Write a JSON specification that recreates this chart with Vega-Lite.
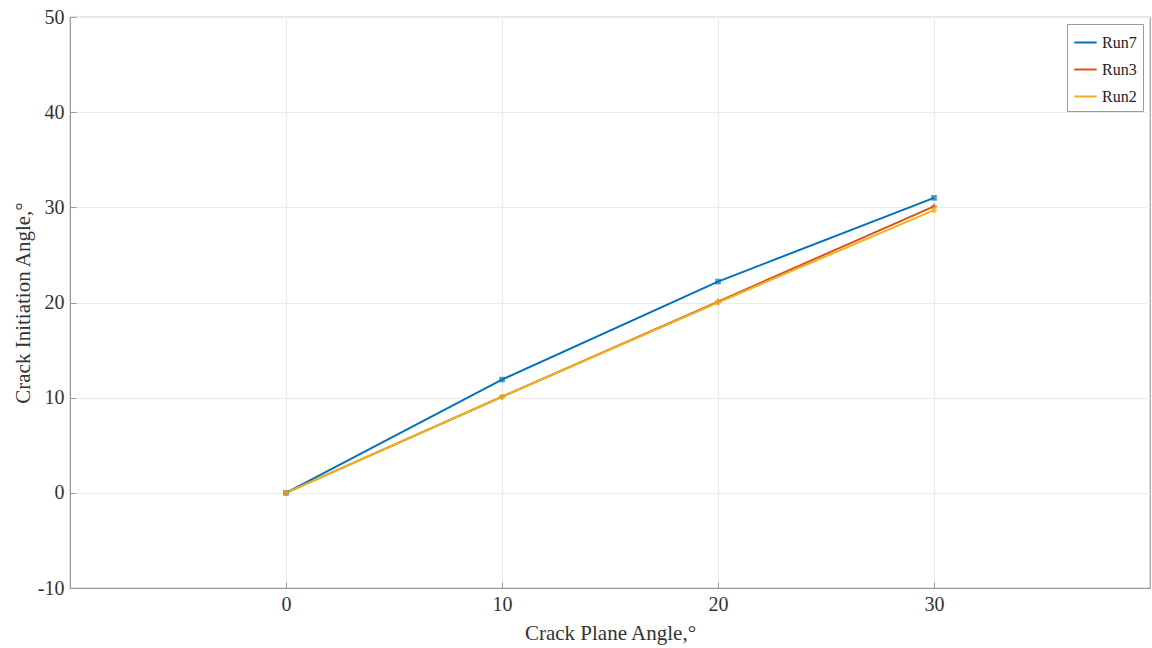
{
  "$schema": "https://vega.github.io/schema/vega-lite/v6.json",
  "width": 1080,
  "height": 571,
  "autosize": {"type": "none"},
  "padding": {"left": 70, "top": 17, "right": 2, "bottom": 60},
  "background": "white",
  "config": {
    "view": {"stroke": "#9a9a9a", "strokeWidth": 1.2},
    "font": "Liberation Serif",
    "axis": {
      "labelFont": "Liberation Serif",
      "titleFont": "Liberation Serif",
      "labelFontSize": 20,
      "titleFontSize": 21,
      "labelColor": "#333333",
      "titleColor": "#333333",
      "titleFontWeight": "normal",
      "gridColor": "#ebebeb",
      "gridWidth": 1,
      "domainColor": "#9a9a9a",
      "tickColor": "#9a9a9a",
      "tickSize": -6,
      "labelPadding": 12
    }
  },
  "data": {
    "values": [
      {"run": "Run7", "x": 0, "y": 0},
      {"run": "Run7", "x": 10, "y": 11.9},
      {"run": "Run7", "x": 20, "y": 22.2},
      {"run": "Run7", "x": 30, "y": 31.0},
      {"run": "Run3", "x": 0, "y": 0},
      {"run": "Run3", "x": 10, "y": 10.1},
      {"run": "Run3", "x": 20, "y": 20.1},
      {"run": "Run3", "x": 30, "y": 30.1},
      {"run": "Run2", "x": 0, "y": 0},
      {"run": "Run2", "x": 10, "y": 10.1},
      {"run": "Run2", "x": 20, "y": 20.0},
      {"run": "Run2", "x": 30, "y": 29.7}
    ]
  },
  "encoding": {
    "x": {
      "field": "x", "type": "quantitative",
      "scale": {"domain": [-10, 40], "nice": false},
      "axis": {"values": [0, 10, 20, 30], "title": "Crack Plane Angle,°", "titlePadding": 8, "labelExpr": "toString(datum.value)"}
    },
    "y": {
      "field": "y", "type": "quantitative",
      "scale": {"domain": [-10, 50], "nice": false},
      "axis": {"values": [-10, 0, 10, 20, 30, 40, 50], "title": "Crack Initiation Angle,°", "titlePadding": 4, "labelExpr": "toString(datum.value)"}
    }
  },
  "layer": [
    {
      "mark": {"type": "line", "strokeWidth": 2},
      "encoding": {
        "color": {
          "field": "run", "type": "nominal",
          "scale": {"domain": ["Run7", "Run3", "Run2"], "range": ["#0072BD", "#D95319", "#EDB120"]},
          "legend": {
            "title": null,
            "orient": "top-right",
            "offset": 7,
            "fillColor": "white",
            "strokeColor": "#9a9a9a",
            "padding": 6,
            "labelFont": "Liberation Serif",
            "labelFontSize": 16,
            "labelColor": "#222222",
            "symbolType": "stroke",
            "symbolStrokeWidth": 2,
            "symbolSize": 500,
            "rowPadding": 6
          }
        }
      }
    },
    {
      "mark": {"type": "point", "filled": true, "size": 32},
      "encoding": {
        "color": {
          "field": "run", "type": "nominal",
          "scale": {"domain": ["Run7", "Run3", "Run2"], "range": ["#0072BD", "#D95319", "#EDB120"]},
          "legend": null
        },
        "shape": {
          "field": "run", "type": "nominal",
          "scale": {"domain": ["Run7", "Run3", "Run2"], "range": ["square", "cross", "circle"]},
          "legend": null
        }
      }
    }
  ],
  "resolve": {"legend": {"color": "independent", "shape": "independent"}}
}
